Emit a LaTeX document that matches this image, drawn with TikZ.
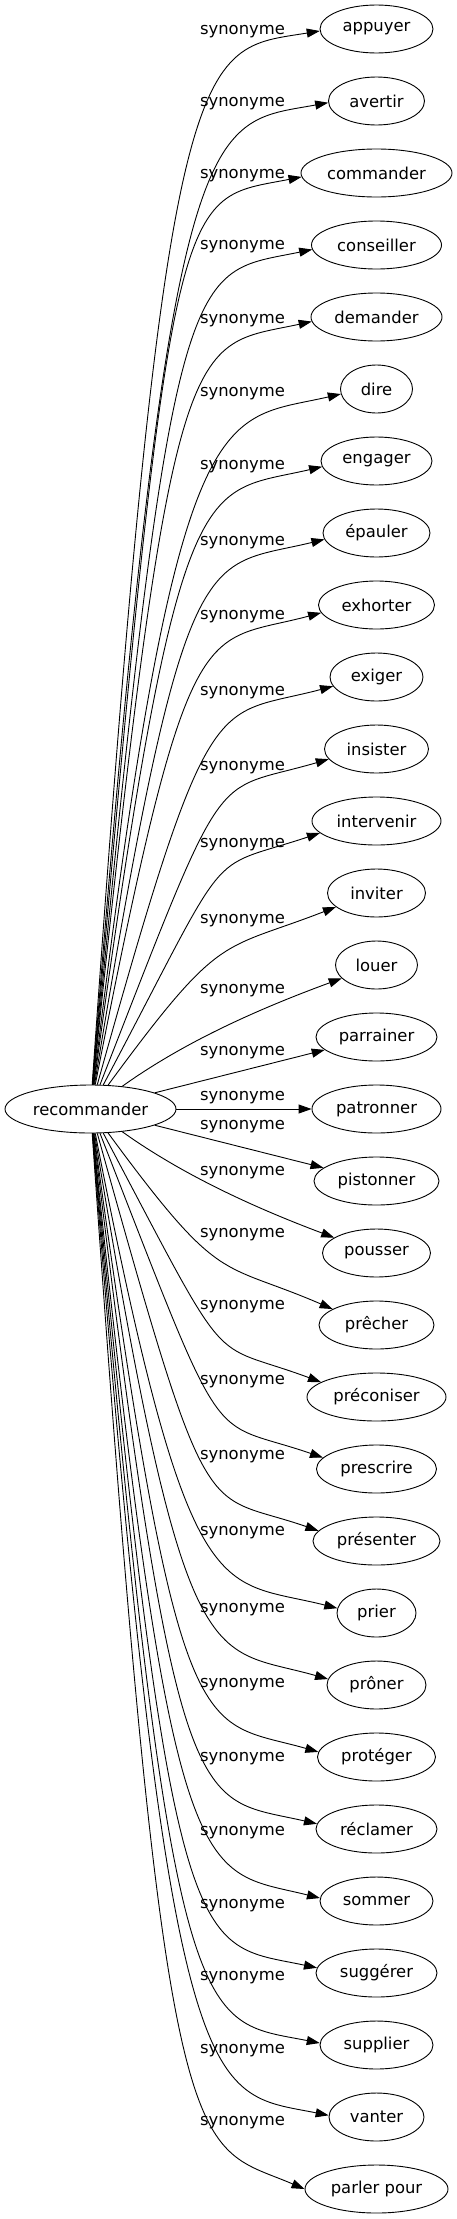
\documentclass[tikz,border=0pt]{standalone}
\usepackage{fontspec}
\setmainfont{DejaVu Sans}
\usetikzlibrary{arrows.meta,shapes.geometric}

\tikzset{
  word/.style={draw, ellipse, line width=0.9pt, inner sep=0pt, minimum height=48pt, font=\fontsize{16.4}{19}\selectfont},
  lbl/.style={inner sep=0pt, font=\fontsize{16.4}{19}\selectfont},
  syn/.style={line width=0.9pt, -{Triangle[length=13pt,width=9pt]}}
}

\begin{document}
\begin{tikzpicture}[x=1pt,y=-1pt]
\useasboundingbox (0,0) rectangle (457,2219);

% Source word
\node[word, minimum width=171pt] (rec) at (90.5,1109) {recommander};

% Synonyms, one row every 72pt
\node[word, minimum width=113pt] (appuyer) at (376.5,29) {appuyer};
\node[word, minimum width=96pt] (avertir) at (376.5,101) {avertir};
\node[word, minimum width=151pt] (commander) at (376.5,173) {commander};
\node[word, minimum width=130pt] (conseiller) at (376.5,245) {conseiller};
\node[word, minimum width=131pt] (demander) at (376.5,317) {demander};
\node[word, minimum width=72pt] (dire) at (376.5,389) {dire};
\node[word, minimum width=111pt] (engager) at (376.5,461) {engager};
\node[word, minimum width=107pt] (epauler) at (376.5,533) {épauler};
\node[word, minimum width=116pt] (exhorter) at (376.5,605) {exhorter};
\node[word, minimum width=93pt] (exiger) at (376.5,677) {exiger};
\node[word, minimum width=104pt] (insister) at (376.5,749) {insister};
\node[word, minimum width=129pt] (intervenir) at (376.5,821) {intervenir};
\node[word, minimum width=98pt] (inviter) at (376.5,893) {inviter};
\node[word, minimum width=82pt] (louer) at (376.5,965) {louer};
\node[word, minimum width=121pt] (parrainer) at (376.5,1037) {parrainer};
\node[word, minimum width=129pt] (patronner) at (376.5,1109) {patronner};
\node[word, minimum width=125pt] (pistonner) at (376.5,1181) {pistonner};
\node[word, minimum width=108pt] (pousser) at (376.5,1253) {pousser};
\node[word, minimum width=115pt] (precher) at (376.5,1325) {prêcher};
\node[word, minimum width=139pt] (preconiser) at (376.5,1397) {préconiser};
\node[word, minimum width=120pt] (prescrire) at (376.5,1469) {prescrire};
\node[word, minimum width=127pt] (presenter) at (376.5,1541) {présenter};
\node[word, minimum width=79pt] (prier) at (376.5,1613) {prier};
\node[word, minimum width=99pt] (proner) at (376.5,1685) {prôner};
\node[word, minimum width=118pt] (proteger) at (376.5,1757) {protéger};
\node[word, minimum width=121pt] (reclamer) at (376.5,1829) {réclamer};
\node[word, minimum width=113pt] (sommer) at (376.5,1901) {sommer};
\node[word, minimum width=121pt] (suggerer) at (376.5,1973) {suggérer};
\node[word, minimum width=113pt] (supplier) at (376.5,2045) {supplier};
\node[word, minimum width=95pt] (vanter) at (376.5,2117) {vanter};
\node[word, minimum width=143pt] (parlerpour) at (376.5,2189) {parler pour};

% Edge labels
\node[lbl] (l-appuyer) at (242.5,32) {synonyme};
\node[lbl] (l-avertir) at (242.5,104) {synonyme};
\node[lbl] (l-commander) at (242.5,176) {synonyme};
\node[lbl] (l-conseiller) at (242.5,247) {synonyme};
\node[lbl] (l-demander) at (242.5,321) {synonyme};
\node[lbl] (l-dire) at (242.5,394) {synonyme};
\node[lbl] (l-engager) at (242.5,467) {synonyme};
\node[lbl] (l-epauler) at (242.5,543) {synonyme};
\node[lbl] (l-exhorter) at (242.5,617) {synonyme};
\node[lbl] (l-exiger) at (242.5,693) {synonyme};
\node[lbl] (l-insister) at (242.5,768) {synonyme};
\node[lbl] (l-intervenir) at (242.5,845) {synonyme};
\node[lbl] (l-inviter) at (242.5,921) {synonyme};
\node[lbl] (l-louer) at (242.5,991) {synonyme};
\node[lbl] (l-parrainer) at (242.5,1053) {synonyme};
\node[lbl] (l-patronner) at (242.5,1098) {synonyme};
\node[lbl] (l-pistonner) at (242.5,1127) {synonyme};
\node[lbl] (l-pousser) at (242.5,1173) {synonyme};
\node[lbl] (l-precher) at (242.5,1235) {synonyme};
\node[lbl] (l-preconiser) at (242.5,1307) {synonyme};
\node[lbl] (l-prescrire) at (242.5,1382) {synonyme};
\node[lbl] (l-presenter) at (242.5,1457) {synonyme};
\node[lbl] (l-prier) at (242.5,1533) {synonyme};
\node[lbl] (l-proner) at (242.5,1610) {synonyme};
\node[lbl] (l-proteger) at (242.5,1685) {synonyme};
\node[lbl] (l-reclamer) at (242.5,1759) {synonyme};
\node[lbl] (l-sommer) at (242.5,1833) {synonyme};
\node[lbl] (l-suggerer) at (242.5,1906) {synonyme};
\node[lbl] (l-supplier) at (242.5,1978) {synonyme};
\node[lbl] (l-vanter) at (242.5,2051) {synonyme};
\node[lbl] (l-parlerpour) at (242.5,2123) {synonyme};

% Edges going up
\draw[syn] (rec) .. controls (166,24) and (197,51) .. (appuyer.182);
\draw[syn] (rec) .. controls (170,96) and (206,125) .. (avertir.182);
\draw[syn] (rec) .. controls (172,168) and (179,201) .. (commander.183);
\draw[syn] (rec) .. controls (173,240) and (190,275) .. (conseiller.184);
\draw[syn] (rec) .. controls (173,312) and (190,348) .. (demander.184);
\draw[syn] (rec) .. controls (178,384) and (220,422) .. (dire.188);
\draw[syn] (rec) .. controls (180,456) and (201,495) .. (engager.186);
\draw[syn] (rec) .. controls (186,528) and (203,569) .. (epauler.187);
\draw[syn] (rec) .. controls (190,600) and (201,645) .. (exhorter.188);
\draw[syn] (rec) .. controls (211,677) and (213,718) .. (exiger.192);
\draw[syn] (rec) .. controls (229,754) and (209,794) .. (insister.192);
\draw[syn] (rec) .. controls (235,836) and (202,872) .. (intervenir.192);
\draw[syn] (rec) .. controls (222,930) and (220,952) .. (inviter.199);
\draw[syn] (rec) .. controls (180,1045) and (250,1012) .. (louer.201);
\draw[syn] (rec) -- (parrainer.194);

% Straight across
\draw[syn] (rec) -- (patronner);

% Edges going down
\draw[syn] (rec) -- (pistonner.166);
\draw[syn] (rec) .. controls (180,1173) and (250,1206) .. (pousser.160);
\draw[syn] (rec) .. controls (222,1288) and (219,1260) .. (precher.160);
\draw[syn] (rec) .. controls (235,1382) and (205,1339) .. (preconiser.165);
\draw[syn] (rec) .. controls (229,1464) and (205,1417) .. (prescrire.168);
\draw[syn] (rec) .. controls (211,1541) and (201,1490) .. (presenter.170);
\draw[syn] (rec) .. controls (190,1618) and (217,1578) .. (prier.173);
\draw[syn] (rec) .. controls (186,1690) and (208,1645) .. (proner.173);
\draw[syn] (rec) .. controls (180,1762) and (199,1718) .. (proteger.175);
\draw[syn] (rec) .. controls (178,1834) and (196,1796) .. (reclamer.175);
\draw[syn] (rec) .. controls (173,1906) and (199,1868) .. (sommer.177);
\draw[syn] (rec) .. controls (173,1978) and (195,1942) .. (suggerer.175);
\draw[syn] (rec) .. controls (172,2050) and (198,2019) .. (supplier.178);
\draw[syn] (rec) .. controls (170,2122) and (207,2091) .. (vanter.178);
\draw[syn] (rec) .. controls (166,2194) and (190,2140) .. (parlerpour.180);
\end{tikzpicture}
\end{document}
